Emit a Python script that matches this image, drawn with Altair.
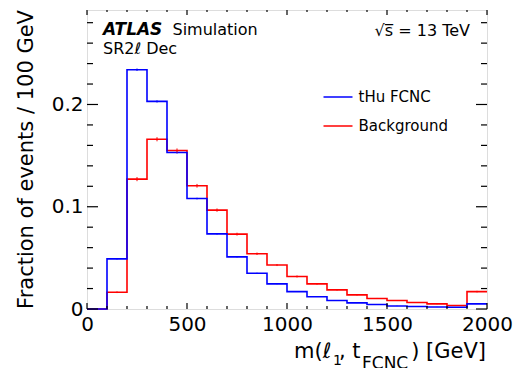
import altair as alt
import pandas as pd

# ---- data ----
edges = list(range(0, 2001, 100))  # bin edges, 100 GeV bins
tHu = [0.0, 0.049, 0.234, 0.203, 0.153, 0.108, 0.0735, 0.051, 0.035, 0.0246,
       0.017, 0.012, 0.0083, 0.006, 0.0044, 0.003, 0.0025, 0.002, 0.0017, 0.005]
bkg = [0.0, 0.0164, 0.127, 0.166, 0.155, 0.1205, 0.0967, 0.0732, 0.054, 0.043,
       0.0318, 0.0246, 0.0187, 0.0138, 0.0103, 0.0083, 0.0064, 0.005, 0.0034, 0.017]
tHu_err = [0.0, 0.0006, 0.0012, 0.0011, 0.001, 0.0008, 0.0007, 0.0006, 0.0005, 0.0004,
           0.0004, 0.0003, 0.0003, 0.0002, 0.0002, 0.0002, 0.0002, 0.0001, 0.0001, 0.0002]
bkg_err = [0.0, 0.0008, 0.002, 0.002, 0.002, 0.0018, 0.0016, 0.0014, 0.0012, 0.001,
           0.001, 0.0008, 0.0007, 0.0006, 0.0005, 0.0005, 0.0004, 0.0004, 0.0003, 0.0008]
series = ["tHu FCNC", "Background"]
colors = ["#0000ff", "#ff0000"]

x_major = [0, 500, 1000, 1500, 2000]
x_minor = [v for v in range(0, 2001, 100) if v % 500 != 0]
y_major = [0, 0.1, 0.2]
y_minor = [0.02, 0.04, 0.06, 0.08, 0.12, 0.14, 0.16, 0.18, 0.22, 0.24, 0.26, 0.28]

W, H = 400, 299
FONT = "DejaVu Sans"

# ---- tables ----
rows, err_rows = [], []
for name, vals, errs in [("tHu FCNC", tHu, tHu_err), ("Background", bkg, bkg_err)]:
    for i, v in enumerate(vals):
        rows.append({"series": name, "x": edges[i], "y": v})
        c = (edges[i] + edges[i + 1]) / 2
        if v > 0:
            err_rows.append({"series": name, "x": c, "lo": v - errs[i], "hi": v + errs[i]})
    rows.append({"series": name, "x": edges[-1], "y": vals[-1]})
hist = pd.DataFrame(rows)
errs = pd.DataFrame(err_rows)

xscale = alt.Scale(domain=[0, 2000], nice=False, zero=False)
yscale = alt.Scale(domain=[0, 0.2924], nice=False, zero=False)
cscale = alt.Scale(domain=series, range=colors)

legend = alt.Legend(orient="none", legendX=235.5, legendY=71.5, title=None,
                    symbolType="stroke", symbolSize=841, symbolStrokeWidth=1.5,
                    labelFont=FONT, labelFontSize=15, labelColor="black",
                    labelOffset=5, rowPadding=5, padding=0)

xaxis = alt.Axis(values=x_major, title=None, ticks=False, tickSize=0, domain=False,
                 grid=False, labelFont=FONT, labelFontSize=20, labelColor="black",
                 labelPadding=5, labelFlush=False, labelOverlap=False, format="d")
yaxis = alt.Axis(values=y_major, title=None, ticks=False, tickSize=0, domain=False,
                 grid=False, labelFont=FONT, labelFontSize=20, labelColor="black",
                 labelPadding=4, labelOverlap=False, format=".1~f")


def X(field):
    return alt.X(field, scale=xscale, axis=xaxis, title=None)


def Y(field):
    return alt.Y(field, scale=yscale, axis=yaxis, title=None)


def hist_layer(name):
    return alt.Chart(hist).transform_filter(alt.datum.series == name).mark_line(
        interpolate="step-after", strokeWidth=1.6
    ).encode(
        x=X("x:Q"),
        y=Y("y:Q"),
        color=alt.Color("series:N", scale=cscale, legend=legend),
    )


err_layer = alt.Chart(errs).mark_rule(strokeWidth=1).encode(
    x=X("x:Q"),
    y=Y("lo:Q"),
    y2="hi:Q",
    color=alt.Color("series:N", scale=cscale, legend=legend),
)


def yticks(vals, length):
    df = pd.DataFrame({"v": vals})
    left = alt.Chart(df).mark_rule(color="black", strokeWidth=1.2).encode(
        y=Y("v:Q"), x=alt.value(0), x2=alt.value(length))
    right = alt.Chart(df).mark_rule(color="black", strokeWidth=1.2).encode(
        y=Y("v:Q"), x=alt.value(W), x2=alt.value(W - length))
    return [left, right]


def xticks(vals, length):
    df = pd.DataFrame({"v": vals})
    bottom = alt.Chart(df).mark_rule(color="black", strokeWidth=1.2).encode(
        x=X("v:Q"), y=alt.value(H), y2=alt.value(H - length))
    top = alt.Chart(df).mark_rule(color="black", strokeWidth=1.2).encode(
        x=X("v:Q"), y=alt.value(0), y2=alt.value(length - 1))
    return [bottom, top]


def label(text, x, y, size, align="left", **kw):
    return alt.Chart(pd.DataFrame({"t": [text]})).mark_text(
        align=align, baseline="alphabetic", font=FONT, fontSize=size, color="black", **kw
    ).encode(x=alt.value(x), y=alt.value(y), text="t:N")


texts = [
    label("ATLAS", 16, 25, 17, fontWeight="bold", fontStyle="italic"),
    label("Simulation", 85.5, 25, 16),
    label("SR2\u2113 Dec", 16, 44, 16),
    label("\u221as\u0305 = 13 TeV", 383, 26, 16, align="right"),
    label("Fraction of events / 100 GeV", -54, 0, 21, align="right", angle=270),
    label("m(\u2113", 207, 348, 21),
    label("1", 246, 355, 14),
    label(", t", 252, 348, 21),
    label("FCNC", 275, 359, 17),
    label(") [GeV]", 399, 348, 21, align="right"),
]

layers = [hist_layer("Background"), hist_layer("tHu FCNC"), err_layer]
layers += yticks(y_major, 11) + yticks(y_minor, 6) + xticks(x_major, 6) + xticks(x_minor, 3)
layers += texts

chart = alt.layer(*layers).properties(
    width=W, height=H,
    autosize=alt.AutoSizeParams(type="none"),
    padding={"left": 87, "top": 10, "right": 28, "bottom": 59},
).configure_view(
    stroke="black", strokeWidth=1.6
).configure(background="white")

chart.save("out.html", embed_options={"renderer": "svg", "actions": False})
